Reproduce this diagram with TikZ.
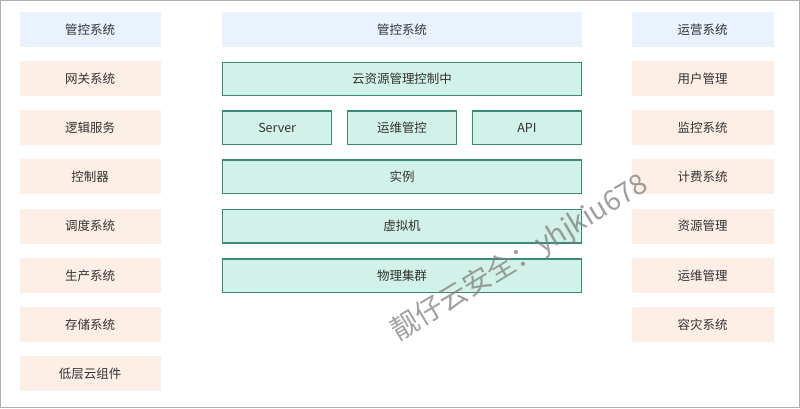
\documentclass[tikz,border=0pt]{standalone}
\usepackage{fontspec}
\setmainfont{Noto Sans CJK SC}
\definecolor{hdrblue}{HTML}{EAF2FF}
\definecolor{pinkfill}{HTML}{FDEEE6}
\definecolor{greenfill}{HTML}{D2F1E9}
\definecolor{greenline}{HTML}{3B8A78}
\definecolor{txtgray}{HTML}{333333}
\tikzset{
  box/.style={inner sep=0pt,text=txtgray,font=\fontsize{12.5}{15}\selectfont},
  hdrbox/.style={box,fill=hdrblue,minimum height=35},
  sidebox/.style={box,fill=pinkfill,minimum width=141,minimum height=35},
  layerbox/.style={box,fill=greenfill,draw=greenline,line width=1.3pt,minimum height=33.5},
}
\begin{document}
\begin{tikzpicture}[x=1pt,y=-1pt]
\draw[gray!60,line width=1pt] (0,0) rectangle (800,408);
% left column
\node[hdrbox,minimum width=141] (lhdr) at (89.75,29) {管控系统};
\node[sidebox] (gw)   at (89.75,78.5)  {网关系统};
\node[sidebox] (logic) at (89.75,127.5) {逻辑服务};
\node[sidebox] (ctrl) at (89.75,176.5) {控制器};
\node[sidebox] (sched) at (89.75,226)  {调度系统};
\node[sidebox] (prod) at (89.75,275.5) {生产系统};
\node[sidebox] (store) at (89.75,324.5) {存储系统};
\node[sidebox] (low)  at (89.75,373.5) {低层云组件};
% middle column
\node[hdrbox,minimum width=361] (mhdr) at (402,29) {管控系统};
\node[layerbox,minimum width=360] (cloud) at (402,78.5) {云资源管理控制中};
\node[layerbox,minimum width=109] (server) at (277,127.5) {Server};
\node[layerbox,minimum width=109] (ops) at (402,127.5) {运维管控};
\node[layerbox,minimum width=109] (api) at (527,127.5) {API};
\node[layerbox,minimum width=360] (inst) at (402,176.5) {实例};
\node[layerbox,minimum width=360] (vm) at (402,226) {虚拟机};
\node[layerbox,minimum width=360] (phys) at (402,275.5) {物理集群};
% right column
\node[hdrbox,minimum width=142] (rhdr) at (703,29) {运营系统};
\node[sidebox,minimum width=142] (user) at (703,78.5)  {用户管理};
\node[sidebox,minimum width=142] (mon)  at (703,127.5) {监控系统};
\node[sidebox,minimum width=142] (bill) at (703,176.5) {计费系统};
\node[sidebox,minimum width=142] (res)  at (703,226)   {资源管理};
\node[sidebox,minimum width=142] (opm)  at (703,275.5) {运维管理};
\node[sidebox,minimum width=142] (dr)   at (703,324.5) {容灾系统};
% watermark
\node[text=gray,opacity=0.75,rotate=31,font=\fontsize{28}{32}\selectfont] (mark) at (520,258) {靓仔云安全：yhjkiu678};
\end{tikzpicture}
\end{document}
